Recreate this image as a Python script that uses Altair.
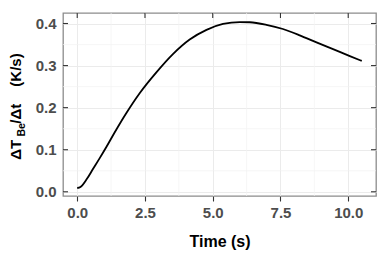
import altair as alt
import pandas as pd

# values
time_s = [0.0, 0.12, 0.34, 0.58, 0.83, 1.08, 1.38, 1.82, 2.31, 2.92, 3.54,
          4.15, 4.77, 5.38, 6.0, 6.37, 6.98, 7.59, 8.21, 8.83, 9.44, 10.06, 10.5]
rate = [0.009, 0.0115, 0.029, 0.054, 0.080, 0.107, 0.141, 0.188, 0.235, 0.284, 0.328,
        0.362, 0.385, 0.399, 0.4035, 0.403, 0.397, 0.387, 0.372, 0.355, 0.339, 0.3225, 0.311]
x_ticks = [0, 2.5, 5, 7.5, 10]
y_ticks = [0.0, 0.1, 0.2, 0.3, 0.4]
x_minor = [1.25, 3.75, 6.25, 8.75]
y_minor = [0.05, 0.15, 0.25, 0.35]
x_title = "Time (s)"
y_title_parts = ["ΔT", "Be", "/Δt", "(K/s)"]

W, H = 313, 183
FONT = "Liberation Sans"
TICK = "#333333"
xs = alt.Scale(domain=[-0.525, 11.025], nice=False, zero=False)
ys = alt.Scale(domain=[-0.010, 0.425], nice=False, zero=False)

df = pd.DataFrame({"t": time_s, "v": rate})
xt = pd.DataFrame({"t": x_ticks})
yt = pd.DataFrame({"v": y_ticks})
one = pd.DataFrame({"a": [0]})

minor_x = alt.Chart(pd.DataFrame({"t": x_minor})).mark_rule(
    color="#f2f2f2", strokeWidth=0.7
).encode(x=alt.X("t:Q", scale=xs, axis=None))

minor_y = alt.Chart(pd.DataFrame({"v": y_minor})).mark_rule(
    color="#f2f2f2", strokeWidth=0.7
).encode(y=alt.Y("v:Q", scale=ys, axis=None))

line = alt.Chart(df).mark_line(color="black", strokeWidth=1.8, interpolate="monotone").encode(
    x=alt.X("t:Q", scale=xs, axis=alt.Axis(
        orient="bottom", values=x_ticks, format=".1f", title=x_title,
        grid=True, gridColor="#ebebeb", gridWidth=1, domain=False,
        tickColor=TICK, tickWidth=1.1, tickSize=5,
        labelFont=FONT, labelFontSize=15, labelFontWeight="bold", labelColor="#4d4d4d",
        labelPadding=4, titleFont=FONT, titleFontSize=16, titleFontWeight="bold",
        titleColor="black", titlePadding=13)),
    y=alt.Y("v:Q", scale=ys, axis=alt.Axis(
        orient="left", values=y_ticks, format=".1f", title=None,
        grid=True, gridColor="#ebebeb", gridWidth=1, domain=False, ticks=False,
        labelFont=FONT, labelFontSize=15, labelFontWeight="bold", labelColor="#4d4d4d",
        labelPadding=7)),
)

# inward ticks on left, right and top edges
left_ticks = alt.Chart(yt).mark_rule(color=TICK, strokeWidth=1.1).encode(
    y=alt.Y("v:Q", scale=ys, axis=None), x=alt.value(0), x2=alt.value(5))
right_ticks = alt.Chart(yt).mark_rule(color=TICK, strokeWidth=1.1).encode(
    y=alt.Y("v:Q", scale=ys, axis=None), x=alt.value(W - 5), x2=alt.value(W))
top_ticks = alt.Chart(xt).mark_rule(color=TICK, strokeWidth=1.1).encode(
    x=alt.X("t:Q", scale=xs, axis=None), y=alt.value(0), y2=alt.value(5))


def piece(text, y, size, x):
    return alt.Chart(one).mark_text(
        text=text, angle=270, align="left", baseline="middle",
        font=FONT, fontSize=size, fontWeight="bold", color="black"
    ).encode(x=alt.value(x), y=alt.value(y))


titles = [
    piece(y_title_parts[0], 146.7, 15, -47.5),
    piece(y_title_parts[1], 123.5, 10.5, -41.5),
    piece(y_title_parts[2], 110.7, 15, -47.5),
    piece(y_title_parts[3], 73.7, 15, -47.5),
]

chart = alt.layer(
    minor_x, minor_y, line, left_ticks, right_ticks, top_ticks, *titles
).resolve_axis(x="independent", y="independent").properties(
    width=W, height=H,
    padding={"left": 55, "top": 5, "right": 6, "bottom": 56},
    autosize=alt.AutoSizeParams(type="none"),
).configure_view(stroke="#8c8c8c", strokeWidth=1.3)

chart.save("out.html", embed_options={"renderer": "svg", "actions": False})
